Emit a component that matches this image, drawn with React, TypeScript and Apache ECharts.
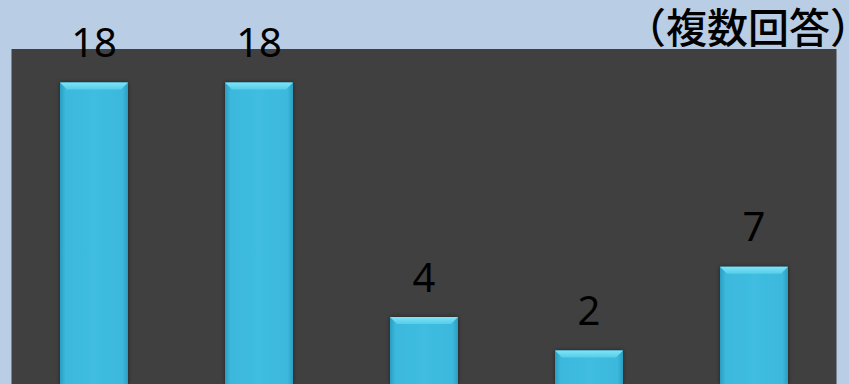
import React, { useEffect, useRef } from "react";
import * as echarts from "echarts";

const categories = ["A", "B", "C", "D", "E"];
const values = [18, 18, 4, 2, 7];
const noteText = "（複数回答）";

export default function App() {
  const ref = useRef<HTMLDivElement>(null);
  useEffect(() => {
    if (!ref.current) return;
    const chart = echarts.init(ref.current, null, { renderer: "svg" });
    const barW = 68;
    chart.setOption({
      animation: false,
      backgroundColor: "#b9cde4",
      grid: {
        left: 11.5,
        top: 49,
        width: 825,
        bottom: 0,
        show: true,
        backgroundColor: "#404040",
        borderWidth: 0,
        containLabel: false,
      },
      xAxis: {
        type: "category",
        data: categories,
        show: false,
      },
      yAxis: {
        type: "value",
        min: 0,
        max: 20,
        show: false,
        splitLine: { show: false },
      },
      graphic: [
        {
          type: "text",
          x: 871,
          y: 4,
          style: {
            text: noteText,
            align: "right",
            fontSize: 41,
            fontWeight: 500,
            fontFamily: "Noto Sans CJK JP",
            fill: "#000000",
          },
        },
      ],
      series: [
        {
          type: "bar",
          data: values,
          barWidth: barW,
          itemStyle: {
            color: new echarts.graphic.LinearGradient(0, 0, 1, 0, [
              { offset: 0, color: "#2a9ec2" },
              { offset: 0.08, color: "#3bb8dc" },
              { offset: 0.5, color: "#3fbde0" },
              { offset: 0.92, color: "#3bb8dc" },
              { offset: 1, color: "#2a9ec2" },
            ]),
            borderWidth: 0,
            shadowColor: "rgba(0,0,0,0.5)",
            shadowBlur: 4,
          },
          label: {
            show: true,
            position: "top",
            distance: 21,
            color: "#000000",
            fontSize: 40,
            fontFamily: "Noto Sans",
          },
        },
        {
          type: "custom",
          data: values.map((v, i) => [i, v]),
          z: 3,
          silent: true,
          renderItem: (params: any, api: any) => {
            const top = api.coord([api.value(0), api.value(1)]);
            const x0 = top[0] - barW / 2;
            const x1 = top[0] + barW / 2;
            const y0 = top[1];
            const b = 7;
            return {
              type: "polygon",
              shape: {
                points: [
                  [x0, y0],
                  [x1, y0],
                  [x1 - b, y0 + b],
                  [x0 + b, y0 + b],
                ],
              },
              style: {
                fill: new echarts.graphic.LinearGradient(0, 0, 0, 1, [
                  { offset: 0, color: "#7fe4f6" },
                  { offset: 1, color: "#55cdea" },
                ]),
              },
            };
          },
        },
      ],
    });
    return () => chart.dispose();
  }, []);
  return <div ref={ref} style={{ width: 849, height: 384, position: "absolute", left: 0, top: 0 }} />;
}
